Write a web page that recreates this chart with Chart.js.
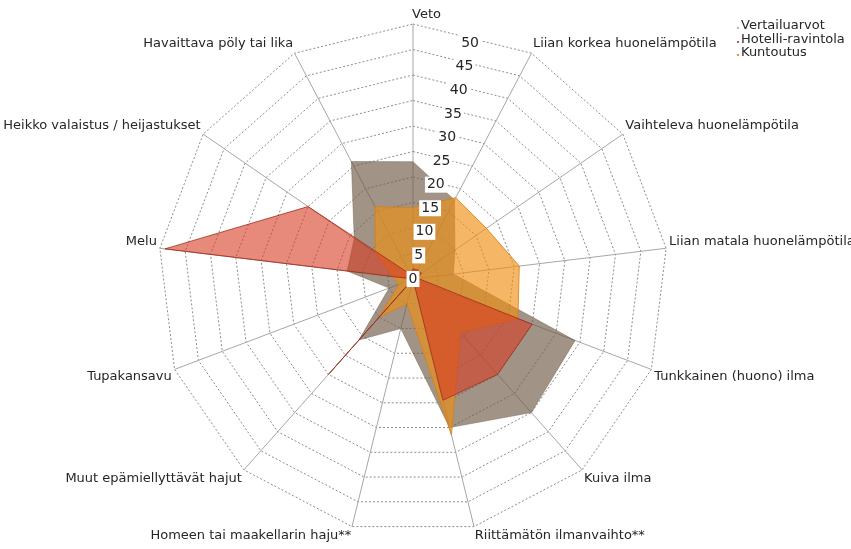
<!DOCTYPE html>
<html lang="fi">
<head>
<meta charset="UTF-8">
<title>Sisäilmahaitat</title>
<script src="https://cdn.jsdelivr.net/npm/chart.js"></script>
<style>
  body { margin: 0; background: #fff; }
  #wrap { position: relative; width: 851px; height: 549px; }
  #legend { position: absolute; left: 737px; top: 18px; font: 13px "DejaVu Sans", sans-serif; line-height: 13.5px; color: #262626; }
  #legend .dot { display: inline-block; width: 2px; height: 2px; margin-right: 2px; }
</style>
</head>
<body>
<div id="wrap">
  <canvas id="radar"></canvas>
  <div id="legend"></div>
</div>
<script>
// categories, clockwise from the top
const labels = [
  'Veto',
  'Liian korkea huonelämpötila',
  'Vaihteleva huonelämpötila',
  'Liian matala huonelämpötila',
  'Tunkkainen (huono) ilma',
  'Kuiva ilma',
  'Riittämätön ilmanvaihto**',
  'Homeen tai maakellarin haju**',
  'Muut epämiellyttävät hajut',
  'Tupakansavu',
  'Melu',
  'Heikko valaistus / heijastukset',
  'Havaittava pöly tai lika'
];
const vertailuarvot    = [23, 17.5, 10, 8, 34, 35, 30, 10, 16, 5, 13, 14, 26];
const hotelliRavintola = [2, 2, 2, 1, 25, 25, 24.5, 0, 25, 0, 49, 25, 1];
const kuntoutus        = [14, 18, 17.5, 21, 22, 14, 31.5, 5, 10, 3, 4, 9, 16];
const tickLabels = [0, 5, 10, 15, 20, 25, 30, 35, 40, 45, 50];

const FONT = '"DejaVu Sans", sans-serif';

// draws category names and value labels like the original spreadsheet chart
const excelLabels = {
  id: 'excelLabels',
  afterDatasetsDraw(chart) {
    const scale = chart.scales.r;
    const ctx = chart.ctx;
    const n = chart.data.labels.length;
    ctx.save();
    ctx.fillStyle = '#262626';
    ctx.font = '13px ' + FONT;
    chart.data.labels.forEach((text, i) => {
      const deg = i * 360 / n;
      const p = scale.getPointPosition(i, scale.drawingArea + 3);
      ctx.textAlign = deg < 180 ? 'left' : 'right';
      ctx.textBaseline = (deg < 90 || deg > 270) ? 'bottom' : 'top';
      ctx.fillText(text, deg === 0 ? p.x - 1 : p.x, p.y);
    });

    ctx.font = '14px ' + FONT;
    ctx.textAlign = 'center';
    ctx.textBaseline = 'middle';
    tickLabels.forEach(v => {
      const d = scale.getDistanceFromCenterForValue(v);
      const x = scale.xCenter + d * 0.224;
      const y = scale.yCenter - d * 0.925;
      const w = ctx.measureText(String(v)).width + 4;
      ctx.fillStyle = '#fff';
      ctx.fillRect(x - w / 2, y - 8, w, 16);
      ctx.fillStyle = '#262626';
      ctx.fillText(String(v), x, y);
    });
    ctx.restore();
  }
};

const series = [
  { label: 'Vertailuarvot', data: vertailuarvot, fill: 'rgba(110,90,70,0.65)', line: 'rgba(110,90,70,0.45)', order: 3 },
  { label: 'Hotelli-ravintola', data: hotelliRavintola, fill: 'rgba(215,60,35,0.6)', line: 'rgba(160,45,25,0.8)', order: 1 },
  { label: 'Kuntoutus', data: kuntoutus, fill: 'rgba(240,145,20,0.65)', line: 'rgba(215,125,20,0.8)', order: 2 }
];

new Chart(document.getElementById('radar'), {
  type: 'radar',
  data: {
    labels: labels,
    datasets: series.map(s => ({
      label: s.label,
      data: s.data,
      backgroundColor: s.fill,
      borderColor: s.line,
      borderWidth: 1,
      pointRadius: 0,
      fill: true,
      order: s.order
    }))
  },
  options: {
    responsive: true,
    maintainAspectRatio: false,
    animation: false,
    layout: { padding: { top: 24, bottom: 15, left: 0, right: 25 } },
    plugins: { legend: { display: false }, tooltip: { enabled: false } },
    scales: {
      r: {
        min: tickLabels[0],
        max: tickLabels[tickLabels.length - 1],
        ticks: { stepSize: 5, display: false },
        pointLabels: { display: false },
        grid: { color: '#8c8c8c', lineWidth: 1 },
        border: { dash: [2, 2] },
        angleLines: { color: '#a6a6a6', lineWidth: 1 }
      }
    }
  },
  plugins: [excelLabels]
});

// small legend in the top right corner
document.getElementById('legend').innerHTML = series.map(s =>
  '<div><span class="dot" style="background:' + s.line + '"></span>' + s.label + '</div>').join('');
</script>
</body>
</html>
